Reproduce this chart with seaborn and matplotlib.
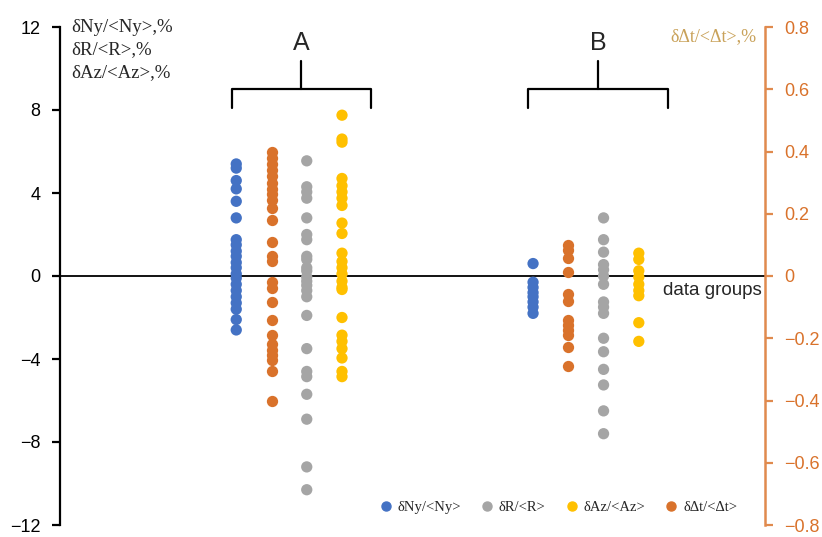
import numpy as np
import pandas as pd
import matplotlib
matplotlib.use("Agg")
import matplotlib.pyplot as plt
from matplotlib.lines import Line2D
import seaborn as sns

# ---------------- data ----------------
groups = ["A", "B"]
series_left = ["δNy/<Ny>", "δR/<R>", "δAz/<Az>"]
series_right = "δΔt/<Δt>"

ny_A = [5.4, 5.2, 4.6, 4.2, 3.6, 2.8, 1.75, 1.5, 1.2, 0.95, 0.65, 0.4, 0.1,
        -0.1, -0.4, -0.7, -1.0, -1.3, -1.6, -2.1, -2.6]
r_A = [5.55, 4.3, 4.05, 3.75, 2.8, 2.0, 1.75, 0.95, 0.8, 0.4, 0.25, -0.05,
       -0.25, -0.45, -0.7, -1.0, -1.9, -3.5, -4.6, -4.85, -5.7, -6.9, -9.2, -10.3]
az_A = [7.75, 6.6, 6.45, 4.7, 4.35, 4.05, 3.75, 3.4, 2.55, 2.05, 1.1, 0.7,
        0.4, 0.1, -0.25, -0.55, -0.65, -2.0, -2.85, -3.15, -3.5, -3.95, -4.6, -4.85]
dt_A = [0.40, 0.38, 0.36, 0.34, 0.32, 0.30, 0.28, 0.265, 0.245, 0.22, 0.18,
        0.11, 0.064, 0.048, -0.02, -0.037, -0.084, -0.142, -0.19, -0.22,
        -0.237, -0.253, -0.27, -0.306, -0.40]

ny_B = [0.6, -0.3, -0.55, -0.8, -1.0, -1.25, -1.5, -1.8]
r_B = [2.8, 1.75, 1.15, 0.55, 0.3, 0.0, -0.4, -1.25, -1.5, -1.8, -3.0,
       -3.65, -4.5, -5.25, -6.5, -7.6]
az_B = [1.1, 0.8, 0.25, -0.05, -0.4, -0.7, -0.95, -2.25, -3.15]
dt_B = [0.10, 0.085, 0.057, 0.014, -0.058, -0.079, -0.142, -0.158, -0.174,
        -0.19, -0.227, -0.29]

left_ticks = [-12, -8, -4, 0, 4, 8, 12]
right_ticks = [-0.8, -0.6, -0.4, -0.2, 0, 0.2, 0.4, 0.6, 0.8]
left_title_lines = ["δNy/<Ny>,%", "δR/<R>,%", "δAz/<Az>,%"]
right_title = "δΔt/<Δt>,%"

# ---------------- styling ----------------
sns.set_style("white")
plt.rcParams["font.family"] = ["Liberation Sans", "DejaVu Sans"]
plt.rcParams["axes.unicode_minus"] = True

c_blue = "#4472C4"
c_gray = "#A5A5A5"
c_yellow = "#FFC000"
c_orange = "#D9722B"
c_raxis = "#E08A4E"
c_rlabel = "#C9A25A"
serif = ["Liberation Serif", "DejaVu Serif"]

# layout of categories on the x axis
group_center = {"A": 0.325, "B": 0.746}
spacing = 0.05
order = ["δNy/<Ny>", "δΔt/<Δt>", "δR/<R>", "δAz/<Az>"]
offset = {s: (i - 1.5) * spacing for i, s in enumerate(order)}

left_data = {("A", "δNy/<Ny>"): ny_A, ("A", "δR/<R>"): r_A, ("A", "δAz/<Az>"): az_A,
             ("B", "δNy/<Ny>"): ny_B, ("B", "δR/<R>"): r_B, ("B", "δAz/<Az>"): az_B}
right_data = {("A", series_right): dt_A, ("B", series_right): dt_B}

def to_frame(d):
    rows = []
    for (g, s), vals in d.items():
        for v in vals:
            rows.append({"group": g, "series": s,
                         "x": group_center[g] + offset[s], "value": v})
    return pd.DataFrame(rows)

df_left = to_frame(left_data)
df_right = to_frame(right_data)

W, H = 822, 537
fig = plt.figure(figsize=(W / 100, H / 100), dpi=100)
top_px, bot_px = 27, 525
ax = fig.add_axes([60 / W, 1 - bot_px / H, 705 / W, (bot_px - top_px) / H])
ax2 = ax.twinx()

palette = {"δNy/<Ny>": c_blue, "δR/<R>": c_gray, "δAz/<Az>": c_yellow}
sns.scatterplot(data=df_left, x="x", y="value", hue="series", palette=palette,
                s=66, linewidth=0, legend=False, ax=ax, zorder=3)
sns.scatterplot(data=df_right, x="x", y="value", color=c_orange,
                s=66, linewidth=0, legend=False, ax=ax2, zorder=3)

ax.set_xlim(0, 1)
ax.set_ylim(-12, 12)
ax2.set_ylim(-0.8, 0.8)
for a in (ax, ax2):
    a.set_xlabel("")
    a.set_ylabel("")
ax.set_xticks([])

ax.set_yticks(left_ticks)
ax.set_yticklabels([f"{t}".replace("-", "\u2212") for t in left_ticks])
ax2.set_yticks(right_ticks)
ax2.set_yticklabels([("0" if t == 0 else f"{t:.1f}").replace("-", "\u2212") for t in right_ticks])

for a in (ax, ax2):
    a.spines["top"].set_visible(False)
    a.spines["bottom"].set_visible(False)
ax.spines["right"].set_visible(False)
ax2.spines["left"].set_visible(False)
ax.spines["left"].set_color("black")
ax.spines["left"].set_linewidth(1.6)
ax2.spines["right"].set_color(c_raxis)
ax2.spines["right"].set_linewidth(1.8)

ax.tick_params(axis="y", direction="out", length=6, width=1.6, colors="black",
               labelsize=13, pad=8, left=True)
ax2.tick_params(axis="y", direction="out", length=6, width=1.6, colors=c_raxis,
                labelsize=13, pad=8, labelcolor=c_orange, right=True)

# zero line (x axis)
ax.axhline(0, color="black", lw=1.3, zorder=2)
ax.text(0.995, -0.3, "data groups", ha="right", va="top", fontsize=13.5)

# axis titles
for i, line in enumerate(left_title_lines):
    ax.text(0.016, 12.0 - i * 1.1, line, family=serif, fontsize=13.5,
            ha="left", va="center")
ax2.text(0.988, 0.77, right_title, family=serif, fontsize=13,
         color=c_rlabel, ha="right", va="center")

# group brackets
for g in groups:
    xc = group_center[g] + 0.35 * spacing
    half = 1.98 * spacing
    ax.plot([xc - half, xc - half, xc + half, xc + half],
            [8.1, 9.0, 9.0, 8.1], color="black", lw=1.6,
            solid_joinstyle="round", solid_capstyle="round", zorder=2)
    ax.plot([xc, xc], [9.0, 10.35], color="black", lw=1.6, zorder=2)
    ax.text(xc, 11.25, g, ha="center", va="center", fontsize=18)

# legend
handles = [Line2D([], [], marker="o", ls="", color=c, markersize=6.5)
           for c in (c_blue, c_gray, c_yellow, c_orange)]
labels = ["δNy/<Ny>", "δR/<R>", "δAz/<Az>", "δΔt/<Δt>"]
ax.legend(handles, labels, loc="center", bbox_to_anchor=(0.706, 0.036),
          ncol=4, frameon=False, prop={"family": serif, "size": 10.5},
          handletextpad=0.3, columnspacing=1.3, handlelength=1.0)

fig.savefig("out.png", dpi=100)
